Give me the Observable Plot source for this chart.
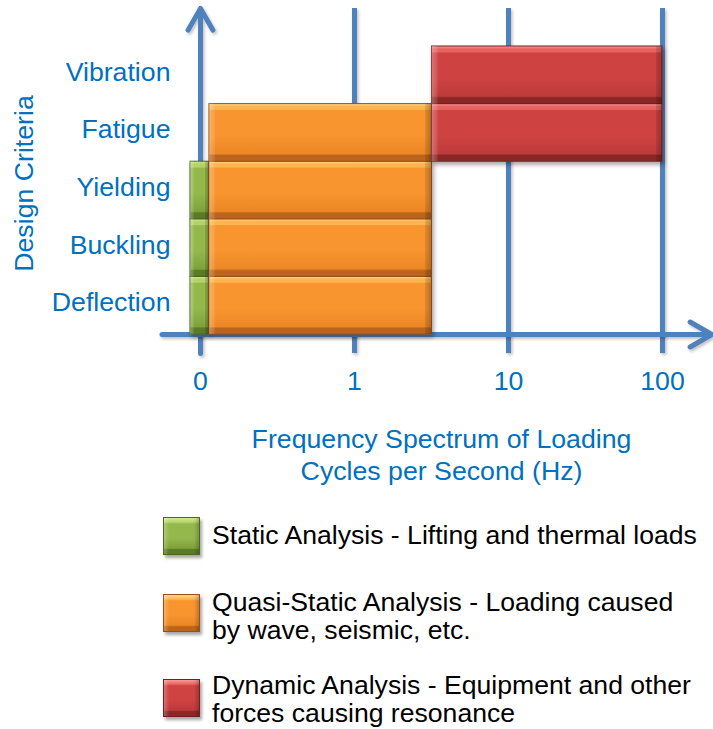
<!DOCTYPE html>
<html>
<head>
<meta charset="utf-8">
<script src="https://cdn.jsdelivr.net/npm/d3@7"></script>
<script src="https://cdn.jsdelivr.net/npm/@observablehq/plot@0.6"></script>
<style>
  body { margin: 0; background: #fff; font-family: "Liberation Sans", Arial, sans-serif; }
  #chart { position: relative; width: 713px; height: 729px; overflow: hidden; background: #fff; }
  #chart svg { display: block; }
  .sw { position: absolute; left: 163px; width: 37px; height: 38px; box-sizing: border-box; }
  .tx { position: absolute; left: 212px; font-size: 26.6px; line-height: 28px; color: #000; white-space: pre-line; }
</style>
</head>
<body>
<div id="chart"></div>
<script>
// ---------- data ----------
const categories = ["Deflection", "Buckling", "Yielding", "Fatigue", "Vibration"];
const tickLabels = ["0", "1", "10", "100"];          // equally spaced decades
const seriesNames = ["Static Analysis", "Quasi-Static Analysis", "Dynamic Analysis"];
const legendLabels = [
  "Static Analysis - Lifting and thermal loads",
  "Quasi-Static Analysis - Loading caused\nby wave, seismic, etc.",
  "Dynamic Analysis - Equipment and other\nforces causing resonance"
];
// extent of each analysis band, in decade positions (0 -> "0", 1 -> "1", 2 -> "10", 3 -> "100")
const seriesStart = [-0.065, 0.058, 1.503];
const seriesEnd   = [0.058, 1.503, 3.0];
const seriesCriteria = [
  ["Deflection", "Buckling", "Yielding"],
  ["Deflection", "Buckling", "Yielding", "Fatigue"],
  ["Fatigue", "Vibration"]
];
const xAxisTitle = "Frequency Spectrum of Loading\nCycles per Second (Hz)";
const yAxisTitle = "Design Criteria";
const gridValues = [1, 2, 3];
const xAxisExtent = [-0.25, 3.32];   // decade positions
const yAxisExtent = [-0.33, 5.66];   // row positions

// ---------- styles ----------
const textBlue = "#0070C0";
const axisBlue = "#4F81BD";
const fontSize = 26.7;
const palettes = [
  {hi: "#D2EA92", hi2: "#B5D26A", main: "#95B84C", low: "#7EA23A", dark: "#5A7A26", stroke: "#4C6820"},
  {hi: "#FFD88A", hi2: "#FDB44E", main: "#F8952F", low: "#EC8726", dark: "#BC641A", stroke: "#97501A"},
  {hi: "#F79A95", hi2: "#E86460", main: "#CF4343", low: "#BD3A3A", dark: "#8A2828", stroke: "#742020"}
];
const bevelPx = [4, 6, 6];
const legendSwatchTop = [517, 594, 679];
const legendTextTop = [521, 588, 671];

// ---------- build ----------
const W = 713, H = 490;
const rows = seriesNames.flatMap((s, k) => seriesCriteria[k].map(c => ({
  series: s, k,
  x1: seriesStart[k], x2: seriesEnd[k],
  y1: categories.indexOf(c), y2: categories.indexOf(c) + 1
})));

const arrowStyle = {stroke: axisBlue, strokeWidth: 5, headLength: 7.5, headAngle: 60, strokeLinejoin: "round", strokeLinecap: "round"};

const plot = Plot.plot({
  width: W, height: H,
  marginLeft: 200, marginRight: 51, marginTop: 46, marginBottom: H - 334,
  x: {domain: [0, 3], axis: null},
  y: {domain: [0, 5], axis: null},
  style: {fontFamily: '"Liberation Sans", Arial, sans-serif', color: textBlue, background: "white", overflow: "visible"},
  marks: [
    Plot.ruleX(gridValues, {y1: yAxisExtent[0], y2: yAxisExtent[1], stroke: axisBlue, strokeWidth: 5}),
    Plot.arrow([0], {x1: 0, x2: 0, y1: yAxisExtent[0], y2: yAxisExtent[1], ...arrowStyle}),
    Plot.arrow([0], {x1: xAxisExtent[0], x2: xAxisExtent[1], y1: 0, y2: 0, ...arrowStyle}),
    ...seriesNames.map((s, k) => Plot.rect(rows.filter(r => r.k === k), {
      x1: "x1", x2: "x2", y1: "y1", y2: "y2",
      fill: `url(#grad${k})`, stroke: palettes[k].stroke, strokeWidth: 1, title: "series"
    })),
    // side-bevel overlay
    ...seriesNames.map((s, k) => Plot.rect(rows.filter(r => r.k === k), {
      x1: "x1", x2: "x2", y1: "y1", y2: "y2", fill: `url(#side${k})`
    })),
    Plot.text(categories, {x: 0, y: (d, i) => i + 0.5, textAnchor: "end", dx: -30, dy: -3, fontSize, fill: textBlue}),
    Plot.text(tickLabels, {x: (d, i) => i, frameAnchor: "bottom", lineAnchor: "middle", dy: 47, fontSize, fill: textBlue}),
    Plot.text([xAxisTitle], {frameAnchor: "bottom", lineAnchor: "middle", textAnchor: "middle", dx: 10, dy: 119, fontSize, lineHeight: 1.2, fill: textBlue}),
    Plot.text([yAxisTitle], {frameAnchor: "left", textAnchor: "middle", lineAnchor: "middle", dx: -176, dy: -7, rotate: -90, fontSize, fill: textBlue})
  ]
});

// gradients & shadows
const xs = plot.scale("x");
const svg = d3.select(plot);
const defs = svg.insert("defs", ":first-child");
palettes.forEach((p, k) => {
  const g = defs.append("linearGradient").attr("id", `grad${k}`).attr("x1", 0).attr("y1", 0).attr("x2", 0).attr("y2", 1);
  [[0, p.hi], [0.05, p.hi2], [0.10, p.hi2], [0.12, p.main], [0.55, p.main], [0.87, p.low], [0.9, p.dark], [1, p.dark]]
    .forEach(([o, c]) => g.append("stop").attr("offset", o).attr("stop-color", c));
  const wpx = Math.abs(xs.apply(seriesEnd[k]) - xs.apply(seriesStart[k]));
  const fr = bevelPx[k] / wpx;
  const s = defs.append("linearGradient").attr("id", `side${k}`).attr("x1", 0).attr("y1", 0).attr("x2", 1).attr("y2", 0);
  [[0, "#fff", 0.28], [fr, "#fff", 0.08], [fr + 0.001, "#fff", 0], [1 - fr - 0.001, "#000", 0], [1 - fr, "#000", 0.1], [1, "#000", 0.25]]
    .forEach(([o, c, a]) => s.append("stop").attr("offset", o).attr("stop-color", c).attr("stop-opacity", a));
});
const f = defs.append("filter").attr("id", "shadow").attr("filterUnits", "userSpaceOnUse")
  .attr("x", 0).attr("y", 0).attr("width", W).attr("height", H);
f.append("feDropShadow").attr("dx", 2).attr("dy", 3).attr("stdDeviation", 2).attr("flood-color", "#000").attr("flood-opacity", 0.35);
const f2 = defs.append("filter").attr("id", "shadow2").attr("filterUnits", "userSpaceOnUse")
  .attr("x", 0).attr("y", 0).attr("width", W).attr("height", H);
f2.append("feDropShadow").attr("dx", 1.5).attr("dy", 2).attr("stdDeviation", 1.5).attr("flood-color", "#000").attr("flood-opacity", 0.25);
svg.selectAll('g[aria-label="rect"]').filter((d, i) => i < 3).attr("filter", "url(#shadow)");
svg.selectAll('g[aria-label="rule"], g[aria-label="arrow"]').attr("filter", "url(#shadow2)");

const chart = document.getElementById("chart");
chart.appendChild(plot);

// legend (below the plot)
seriesNames.forEach((s, k) => {
  const p = palettes[k];
  const sw = document.createElement("div");
  sw.className = "sw";
  sw.title = s;
  sw.style.top = legendSwatchTop[k] + "px";
  sw.style.background = `linear-gradient(to right, rgba(255,255,255,0.25) 0px, rgba(255,255,255,0) 5px, rgba(0,0,0,0) 30px, rgba(0,0,0,0.2) 35px), linear-gradient(to bottom, ${p.hi} 0%, ${p.hi2} 12%, ${p.main} 16%, ${p.main} 55%, ${p.low} 84%, ${p.dark} 88%, ${p.dark} 100%)`;
  sw.style.border = `1px solid ${p.stroke}`;
  sw.style.boxShadow = "2px 3px 3px rgba(0,0,0,0.35)";
  chart.appendChild(sw);
  const tx = document.createElement("div");
  tx.className = "tx";
  tx.style.top = legendTextTop[k] + "px";
  tx.textContent = legendLabels[k];
  chart.appendChild(tx);
});
</script>
</body>
</html>
